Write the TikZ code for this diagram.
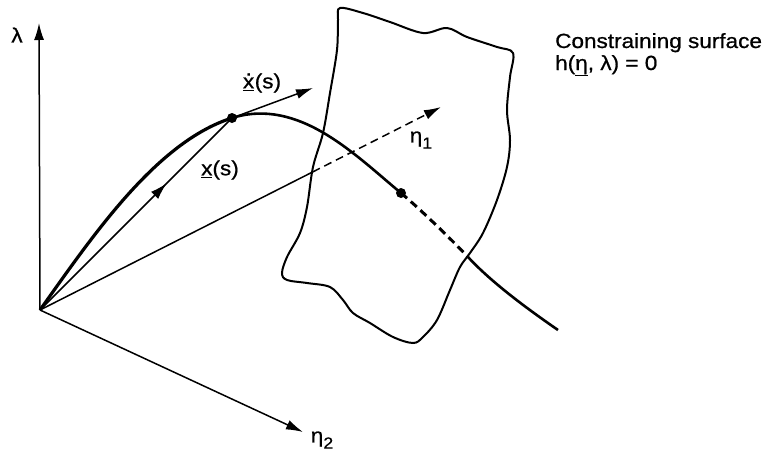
\documentclass[tikz,border=0pt]{standalone}
\usepackage{fontspec}
\setmainfont{Liberation Sans}[FakeStretch=1.1,FakeBold=0.8]
\usetikzlibrary{arrows.meta,decorations.markings,calc}
\newcommand{\xdotlbl}{\underline{x}\hspace{-0.42em}\raisebox{0.62em}{.}\hspace{0.14em}}
\newcommand{\subn}[1]{\raisebox{-0.3em}{\fontsize{16}{16}\selectfont #1}}
\begin{document}
\begin{tikzpicture}[x=1pt,y=-1pt,
  axis/.style={line width=1.5pt},
  arr/.style={-{Latex[length=17pt,width=10pt]}},
  lbl/.style={font=\fontsize{20.5}{24}\selectfont, inner sep=0pt},
  dotpt/.style={circle,fill=black,inner sep=0pt,minimum size=10pt},
  midarrow/.style={postaction={decorate},decoration={markings,mark=at position 0.66 with {\arrow{Latex[length=17pt,width=10pt]}}}}]
\useasboundingbox (0,0) rectangle (770,453);
\coordinate (O) at (40,310);
\coordinate (Ltip) at (39,23);
\coordinate (E2tip) at (303,432);
\coordinate (E1tip) at (441,107);
\coordinate (E1cut) at ($(O)!0.68!(E1tip)$);
\coordinate (D1) at (232,118);
\coordinate (D2) at (401,193);
\coordinate (X) at (468,257);
\coordinate (E) at (558,330);
\coordinate (Vtip) at (313,88);
% surface
\draw[line width=2pt] plot[smooth cycle, tension=0.55] coordinates {
 (340,8) (363,13) (390,22) (423,33) (447,28) (467,37) (497,47) (513,53)
 (510,77) (507,110) (510,140) (507,167) (497,200) (483,233) (470,253) (460,267)
 (450,290) (437,320) (423,337) (413,343) (393,337) (370,323) (353,313) (343,300)
 (330,287) (307,283) (287,280) (282,273) (287,257) (300,233) (307,207) (313,167)
 (323,133) (330,93) (337,50) (338,20)};
% axes
\draw[axis,arr] (O) -- (Ltip);
\draw[axis,arr] (O) -- (E2tip);
\draw[axis] (O) -- (E1cut);
\draw[axis,arr,dash pattern=on 8pt off 5pt] (E1cut) -- (E1tip);
% vectors
\draw[axis,midarrow] (O) -- (D1);
\draw[axis,arr] (D1) -- (Vtip);
% curve
\draw[line width=3.2pt] (O) .. controls (92,237) and (156,142) .. (D1);
\draw[line width=2.6pt] (D1) .. controls (299,97) and (355,155) .. (D2);
\draw[line width=3pt, dash pattern=on 8pt off 5pt] (D2) .. controls (420,209) and (451,239) .. (X);
\draw[line width=2.6pt] (X) .. controls (492,283) and (529,310) .. (E);
\node[dotpt] (d1) at (D1) {};
\node[dotpt] (d2) at (D2) {};
% labels
\node[lbl] (lam) at (17,35) {λ};
\node[lbl] (xd) at (262,83) {\xdotlbl(s)};
\node[lbl] (xs) at (220,170) {\underline{x}(s)};
\node[lbl] (n1) at (421,140) {η\subn{1}};
\node[lbl] (n2) at (322,440) {η\subn{2}};
\node[lbl,anchor=base west] (cs) at (555,48) {Constraining surface};
\node[lbl,anchor=base west] (hh) at (555,70) {h(\underline{η}, λ) = 0};
\end{tikzpicture}
\end{document}
